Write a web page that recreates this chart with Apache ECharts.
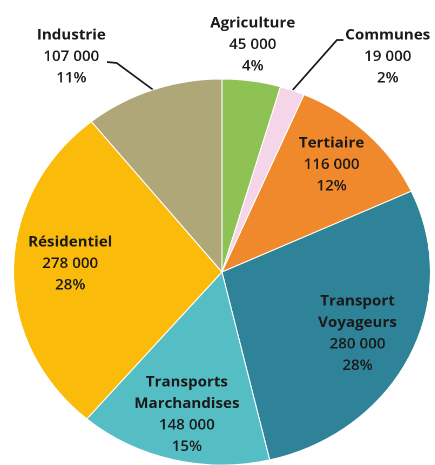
<!DOCTYPE html>
<html>
<head>
<meta charset="utf-8">
<script src="https://cdn.jsdelivr.net/npm/echarts@6/dist/echarts.min.js"></script>
<style>
html,body{margin:0;padding:0;background:#fff;overflow:hidden;}
#wrap{width:435px;height:465px;overflow:hidden;}
/* the reference pie is slightly wider than tall: stretch horizontally */
#chart{width:403px;height:465px;transform:scaleX(1.08);transform-origin:0 0;}
</style>
</head>
<body>
<div id="wrap"><div id="chart"></div></div>
<script>
// Data
const categories = ['Agriculture', 'Communes', 'Tertiaire', 'Transport\nVoyageurs', 'Transports\nMarchandises', 'Résidentiel', 'Industrie'];
const values = [45000, 19000, 116000, 280000, 148000, 278000, 107000];
const percentLabels = ['4%', '2%', '12%', '28%', '15%', '28%', '11%'];
const colors = ['#8fc255', '#f5d5e8', '#f0882c', '#2f8399', '#55bec4', '#fbbb0a', '#b0a779'];

// Label layout (in unstretched chart coordinates)
const labelPos = [
  { x: 234, y: 45 },
  { x: 359, y: 57, line: [[271, 90], [312, 40], [318, 40]] },
  { x: 307, y: 165 },
  { x: 331, y: 334 },
  { x: 173, y: 415 },
  { x: 65, y: 264 },
  { x: 66, y: 57, line: [[142, 90], [108, 63], [99, 62]] }
];
const outside = [true, true, false, false, false, false, true];

function fmt(v) {
  return String(v).replace(/\B(?=(\d{3})+(?!\d))/g, ' ');
}

const data = categories.map((c, i) => ({
  name: c,
  value: values[i],
  itemStyle: { color: colors[i] },
  label: { position: outside[i] ? 'outside' : 'inside' },
  labelLine: { show: !!labelPos[i].line, lineStyle: { color: '#1a1a1a', width: 1.7 } }
}));

const chart = echarts.init(document.getElementById('chart'), null, { renderer: 'canvas', devicePixelRatio: 2 });
chart.setOption({
  animation: false,
  series: [{
    type: 'pie',
    center: [205.5, 272],
    radius: [0, 193],
    startAngle: 90,
    clockwise: true,
    avoidLabelOverlap: false,
    itemStyle: { borderColor: '#ffffff', borderWidth: 1 },
    label: {
      show: true,
      formatter: function (p) {
        const lines = p.name.split('\n').map(s => '{n|' + s + '}');
        return lines.join('\n') + '\n{v|' + fmt(p.value) + '}\n{v|' + percentLabels[p.dataIndex] + '}';
      },
      rich: {
        n: { fontFamily: 'Open Sans', fontSize: 14, fontWeight: 'bold', color: '#1a1a1a', lineHeight: 21.5, align: 'center' },
        v: { fontFamily: 'Open Sans', fontSize: 14, fontWeight: 600, color: '#1a1a1a', lineHeight: 21.5, align: 'center' }
      }
    },
    labelLayout: function (params) {
      const p = labelPos[params.dataIndex];
      const out = { x: p.x, y: p.y, align: 'center', verticalAlign: 'middle' };
      if (p.line) out.labelLinePoints = p.line;
      return out;
    },
    data: data
  }]
});
</script>
</body>
</html>
